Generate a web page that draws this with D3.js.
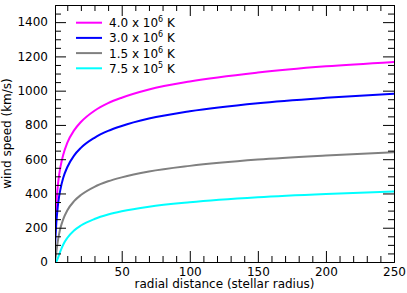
<!DOCTYPE html>
<html>
<head>
<meta charset="utf-8">
<script src="https://cdn.jsdelivr.net/npm/d3@7"></script>
<style>
  body { margin: 0; background: #fff; }
  svg { font-family: "DejaVu Sans", sans-serif; }
</style>
</head>
<body>
<div id="container"></div>
<script>
// radial distance in stellar radii
const radius = [1, 1.5, 2, 3, 4, 5, 7, 10, 15, 20, 30, 40, 50, 70, 100, 150, 200, 250];
// wind speed (km/s) for each coronal temperature
const speed4_0e6 = [164, 267, 340, 440, 506, 555, 625, 695, 768, 817, 883, 927, 959, 1007, 1054, 1106, 1142, 1168];
const speed3_0e6 = [84, 167, 231, 320, 381, 425, 490, 553, 621, 666, 725, 765, 794, 837, 880, 927, 958, 982];
const speed1_5e6 = [5, 28, 60, 118, 163, 198, 249, 301, 355, 391, 439, 471, 494, 528, 561, 598, 622, 641];
const speed7_5e5 = [0, 0.5, 3, 20, 42, 64, 101, 140, 184, 213, 251, 277, 296, 323, 349, 378, 397, 411];

const labelMant = ["4.0", "3.0", "1.5", "7.5"];
const labelExp = ["6", "6", "6", "5"];
const colors = ["#ff00ff", "#0000ff", "#808080", "#00ffff"];

const xTicks = [50, 100, 150, 200, 250];
const yTicks = [0, 200, 400, 600, 800, 1000, 1200, 1400];

const series = [speed4_0e6, speed3_0e6, speed1_5e6, speed7_5e5];

const W = 407, H = 293;
const margin = { top: 5, right: 13, bottom: 31, left: 55 };
const width = W - margin.left - margin.right;
const height = H - margin.top - margin.bottom;

const svg = d3.select("#container").append("svg")
  .attr("width", W).attr("height", H);
const g = svg.append("g").attr("transform", `translate(${margin.left},${margin.top})`);

const x = d3.scaleLinear().domain([1, 250]).range([0, width]);
const y = d3.scaleLinear().domain([0, 1500]).range([height, 0]);

g.append("clipPath").attr("id", "clip")
  .append("rect").attr("width", width).attr("height", height);

// curves
const line = d3.line()
  .x((d, i) => x(radius[i]))
  .y(d => y(d))
  .curve(d3.curveMonotoneX);

series.forEach((s, k) => {
  g.append("path")
    .datum(s)
    .attr("clip-path", "url(#clip)")
    .attr("fill", "none")
    .attr("stroke", colors[k])
    .attr("stroke-width", 2)
    .attr("d", line);
});

// minor ticks (inward)
const xMinor = d3.range(10, 250, 10).filter(v => v % 50 !== 0);
const yMinor = d3.range(50, 1500, 50).filter(v => v % 200 !== 0);
const big = 11, small = 6;

function styleAxis(sel) {
  sel.selectAll("path").attr("stroke", "#000");
  sel.selectAll("line").attr("stroke", "#000");
  sel.selectAll("text").attr("fill", "#000").style("font-size", "12px")
    .style("font-family", "DejaVu Sans, sans-serif");
}

g.append("g").attr("transform", `translate(0,${height})`)
  .call(d3.axisBottom(x).tickValues(xMinor).tickSize(-small).tickFormat("").tickSizeOuter(0))
  .call(styleAxis);
g.append("g").attr("transform", `translate(0,${height})`)
  .call(d3.axisBottom(x).tickValues(xTicks).tickSize(-big).tickPadding(5).tickFormat(d3.format("d")).tickSizeOuter(0))
  .call(styleAxis);
g.append("g")
  .call(d3.axisTop(x).tickValues(xMinor).tickSize(-small).tickFormat("").tickSizeOuter(0))
  .call(styleAxis);
g.append("g")
  .call(d3.axisTop(x).tickValues(xTicks).tickSize(-big).tickFormat("").tickSizeOuter(0))
  .call(styleAxis);

g.append("g")
  .call(d3.axisLeft(y).tickValues(yMinor).tickSize(-small).tickFormat("").tickSizeOuter(0))
  .call(styleAxis);
g.append("g")
  .call(d3.axisLeft(y).tickValues(yTicks).tickSize(-big).tickPadding(7).tickFormat(d3.format("d")).tickSizeOuter(0))
  .call(styleAxis);
g.append("g").attr("transform", `translate(${width},0)`)
  .call(d3.axisRight(y).tickValues(yMinor).tickSize(-small).tickFormat("").tickSizeOuter(0))
  .call(styleAxis);
g.append("g").attr("transform", `translate(${width},0)`)
  .call(d3.axisRight(y).tickValues(yTicks).tickSize(-big).tickFormat("").tickSizeOuter(0))
  .call(styleAxis);

// axis titles
svg.append("text")
  .attr("x", margin.left + width / 2).attr("y", 288)
  .attr("text-anchor", "middle").style("font-size", "12px")
  .text("radial distance (stellar radius)");
svg.append("text")
  .attr("transform", `translate(11,${margin.top + height / 2}) rotate(-90)`)
  .attr("text-anchor", "middle").style("font-size", "12px")
  .text("wind speed (km/s)");

// legend
const legend = svg.append("g");
labelMant.forEach((m, k) => {
  const cy = 22.7 + k * 15.2;
  legend.append("line")
    .attr("x1", 76).attr("x2", 102).attr("y1", cy).attr("y2", cy)
    .attr("stroke", colors[k]).attr("stroke-width", 2);
  const t = legend.append("text")
    .attr("x", 109).attr("y", cy + 4.4).style("font-size", "12px");
  t.append("tspan").text(`${m} x 10`);
  t.append("tspan").attr("dy", -5).style("font-size", "8px").text(labelExp[k]);
  t.append("tspan").attr("dy", 5).text(" K");
});
</script>
</body>
</html>
